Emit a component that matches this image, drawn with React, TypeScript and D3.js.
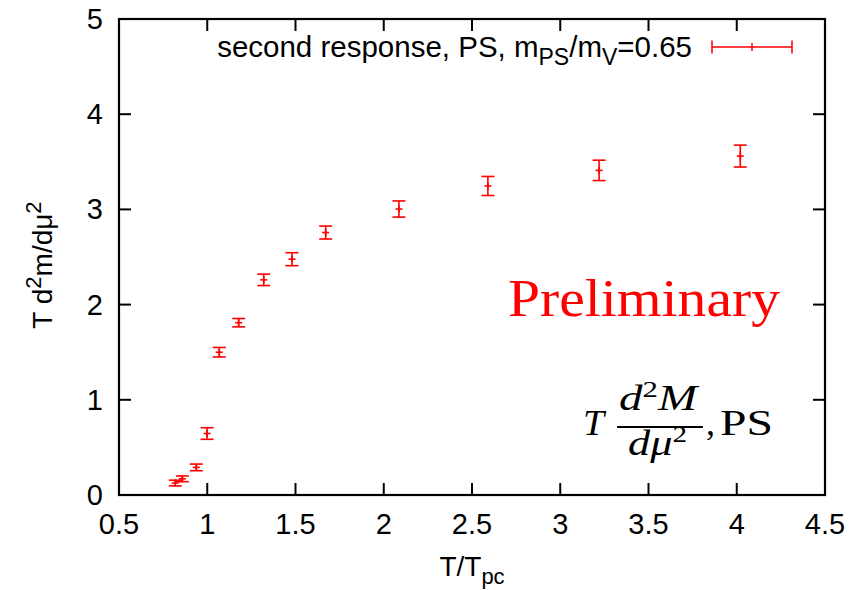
import React from 'react';
import * as d3 from 'd3';

const tOverTpc = [0.819, 0.859, 0.938, 0.999, 1.068, 1.178, 1.32, 1.48, 1.671, 2.086, 2.59, 3.22, 4.02];
const values = [0.126, 0.17, 0.29, 0.646, 1.5, 1.81, 2.26, 2.477, 2.757, 3.004, 3.246, 3.41, 3.56];
const errors = [0.03, 0.03, 0.035, 0.061, 0.05, 0.044, 0.06, 0.068, 0.068, 0.085, 0.1, 0.107, 0.115];
const xTicks = [0.5, 1, 1.5, 2, 2.5, 3, 3.5, 4, 4.5];
const yTicks = [0, 1, 2, 3, 4, 5];

const W = 852;
const H = 590;
const left = 119, right = 825, top = 19, bottom = 495;
const sans = '"Liberation Sans", Arial, Helvetica, sans-serif';
const serif = '"Liberation Serif", "Times New Roman", serif';
const RED = '#ff0000';

export default function App() {
  const x = d3.scaleLinear().domain([0.5, 4.5]).range([left, right]);
  const y = d3.scaleLinear().domain([0, 5]).range([bottom, top]);
  const tickLen = 12;
  const cap = 6.5;
  const cross = 3.5;
  const data = tOverTpc.map((t, i) => ({ t, v: values[i], e: errors[i] }));
  const legX1 = 712, legX2 = 792, legY = 47;

  return (
    <svg width={W} height={H} style={{ position: 'absolute', left: 0, top: 0, background: '#fff' }}>
      <rect x={0} y={0} width={W} height={H} fill="#fff" />
      {xTicks.map((t) => (
        <g key={'xt' + t}>
          <line x1={x(t)} x2={x(t)} y1={bottom} y2={bottom - tickLen} stroke="#000" strokeWidth={2} />
          <line x1={x(t)} x2={x(t)} y1={top} y2={top + tickLen} stroke="#000" strokeWidth={2} />
          <text x={x(t)} y={534} fontFamily={sans} fontSize={29} textAnchor="middle" fill="#000">{String(t)}</text>
        </g>
      ))}
      {yTicks.map((t) => (
        <g key={'yt' + t}>
          <line x1={left} x2={left + tickLen} y1={y(t)} y2={y(t)} stroke="#000" strokeWidth={2} />
          <line x1={right} x2={right - tickLen} y1={y(t)} y2={y(t)} stroke="#000" strokeWidth={2} />
          <text x={103} y={y(t) + 10} fontFamily={sans} fontSize={29} textAnchor="end" fill="#000">{String(t)}</text>
        </g>
      ))}
      <rect x={left} y={top} width={right - left} height={bottom - top} fill="none" stroke="#000" strokeWidth={2.2} />

      <text x={472} y={576} fontFamily={sans} fontSize={28} textAnchor="middle" fill="#000">
        T/T<tspan fontSize={22} dy={8}>pc</tspan>
      </text>
      <text transform="translate(52,265) rotate(-90)" fontFamily={sans} fontSize={28} textAnchor="middle" fill="#000">
        T d<tspan fontSize={22} dy={-11}>2</tspan><tspan dy={11}>m/dμ</tspan><tspan fontSize={22} dy={-11}>2</tspan>
      </text>

      <text x={692} y={57} fontFamily={sans} fontSize={29.5} textAnchor="end" fill="#000">
        second response, PS, m<tspan fontSize={23} dy={8}>PS</tspan><tspan dy={-8}>/m</tspan><tspan fontSize={23} dy={8}>V</tspan><tspan dy={-8}>=0.65</tspan>
      </text>
      <g stroke={RED} strokeWidth={1.5}>
        <line x1={legX1} x2={legX2} y1={legY} y2={legY} />
        <line x1={legX1} x2={legX1} y1={legY - cap} y2={legY + cap} />
        <line x1={legX2} x2={legX2} y1={legY - cap} y2={legY + cap} />
        <line x1={(legX1 + legX2) / 2} x2={(legX1 + legX2) / 2} y1={legY - 4} y2={legY + 4} />
      </g>

      <g stroke={RED} strokeWidth={1.6}>
        {data.map((d, i) => {
          const cx = x(d.t);
          const yl = y(d.v - d.e);
          const yh = y(d.v + d.e);
          const cy = y(d.v);
          return (
            <g key={i}>
              <line x1={cx} x2={cx} y1={yl} y2={yh} />
              <line x1={cx - cap} x2={cx + cap} y1={yl} y2={yl} />
              <line x1={cx - cap} x2={cx + cap} y1={yh} y2={yh} />
              <line x1={cx - cross} x2={cx + cross} y1={cy} y2={cy} />
              <line x1={cx} x2={cx} y1={cy - cross} y2={cy + cross} />
            </g>
          );
        })}
      </g>

      <text x={508} y={316} fontFamily={serif} fontSize={52} fill={RED} textLength={272} lengthAdjust="spacingAndGlyphs">Preliminary</text>
      <g fontFamily={serif} fill="#000">
        <text x={583} y={435} fontSize={35} fontStyle="italic" textLength={21} lengthAdjust="spacingAndGlyphs">T</text>
        <text x={619} y={410} fontSize={35} textLength={78} lengthAdjust="spacingAndGlyphs">
          <tspan fontStyle="italic">d</tspan><tspan fontSize={23} dy={-13}>2</tspan><tspan fontStyle="italic" dy={13}>M</tspan>
        </text>
        <line x1={617} x2={703} y1={427} y2={427} stroke="#000" strokeWidth={2} />
        <text x={628} y={455} fontSize={35} textLength={59} lengthAdjust="spacingAndGlyphs">
          <tspan fontStyle="italic">dμ</tspan><tspan fontSize={23} dy={-13}>2</tspan>
        </text>
        <text x={706} y={435} fontSize={36}>,</text>
        <text x={720} y={435} fontSize={35} textLength={53} lengthAdjust="spacingAndGlyphs">PS</text>
      </g>
    </svg>
  );
}
